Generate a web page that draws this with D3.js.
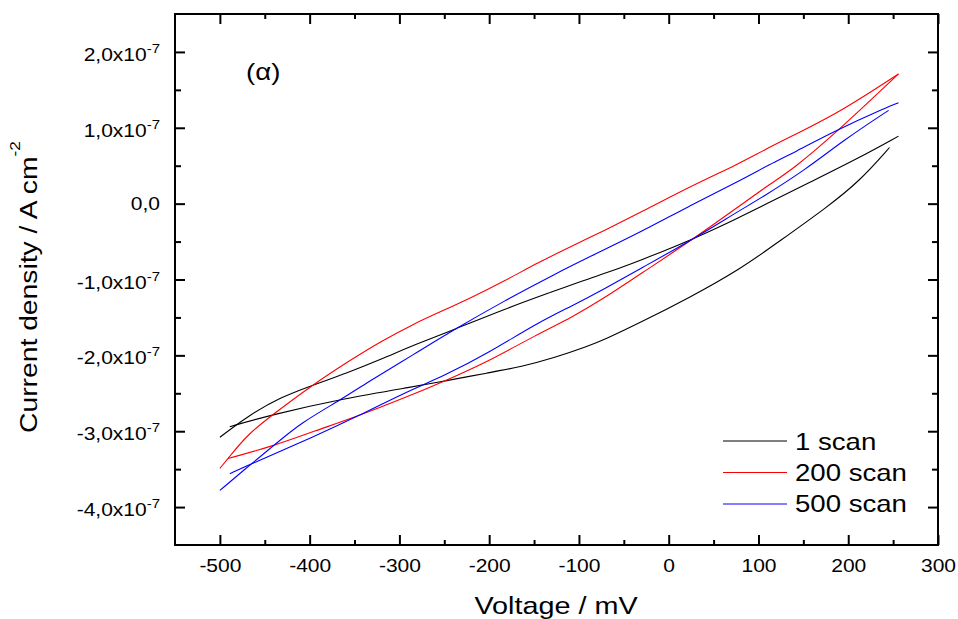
<!DOCTYPE html>
<html>
<head>
<meta charset="utf-8">
<script src="https://cdn.jsdelivr.net/npm/d3@7"></script>
<style>
  body { margin: 0; background: #fff; }
  svg { display: block; }
  text { font-family: "Liberation Sans", Arial, Helvetica, sans-serif; fill: #000; }
</style>
</head>
<body>
<svg id="chart" width="958" height="619"></svg>
<script>
// Cyclic voltammograms: [voltage in mV, current density in units of 1e-7 A cm^-2]
// Each loop is stored as its upper and lower branch.
const scan1Upper = [[-500,-3.08],[-469,-2.80],[-432,-2.55],[-398,-2.40],[-358,-2.23],[-320,-2.05],[-283,-1.86],[-239,-1.66],[-183,-1.39],[-127,-1.15],[-97,-1.02],[-71,-0.92],[-32,-0.75],[27,-0.47],[79,-0.18],[113,0.02],[157,0.28],[213,0.61],[256,0.89]];
const scan1Lower = [[-489,-2.94],[-441,-2.78],[-363,-2.57],[-283,-2.41],[-250,-2.34],[-201,-2.23],[-164,-2.15],[-127,-2.03],[-90,-1.88],[-71,-1.79],[-32,-1.57],[23,-1.24],[79,-0.87],[124,-0.49],[176,-0.05],[213,0.30],[246,0.74]];

const scan200Upper = [[-500,-3.49],[-491,-3.36],[-469,-3.04],[-441,-2.78],[-398,-2.40],[-357,-2.08],[-320,-1.81],[-283,-1.58],[-257,-1.44],[-220,-1.24],[-183,-1.02],[-146,-0.78],[-108,-0.56],[-71,-0.35],[-32,-0.12],[23,0.22],[79,0.53],[105,0.70],[139,0.90],[194,1.23],[256,1.71]];
const scan200Lower = [[-491,-3.36],[-439,-3.19],[-395,-3.00],[-346,-2.80],[-294,-2.56],[-250,-2.34],[-201,-2.08],[-146,-1.72],[-108,-1.50],[-71,-1.24],[-32,-0.93],[27,-0.47],[79,-0.03],[113,0.26],[139,0.46],[187,0.94],[256,1.71]];

const scan500Upper = [[-500,-3.78],[-465,-3.43],[-439,-3.18],[-410,-2.89],[-363,-2.57],[-339,-2.38],[-283,-1.98],[-239,-1.66],[-183,-1.28],[-127,-0.93],[-88,-0.70],[-32,-0.38],[23,-0.03],[79,0.30],[113,0.52],[139,0.67],[187,0.97],[243,1.27],[256,1.33]];
const scan500Lower = [[-489,-3.56],[-465,-3.43],[-395,-3.07],[-346,-2.80],[-294,-2.49],[-250,-2.27],[-201,-1.97],[-146,-1.57],[-108,-1.35],[-71,-1.12],[-32,-0.86],[27,-0.47],[79,-0.09],[101,0.06],[154,0.46],[194,0.83],[245,1.23]];

const seriesNames = ["1 scan", "200 scan", "500 scan"];
const seriesColors = ["#000000", "#ff0000", "#0000ff"];

const xMajorTicks = [-500, -400, -300, -200, -100, 0, 100, 200, 300];
const xMinorTicks = [-450, -350, -250, -150, -50, 50, 150, 250];
const yMajorTicks = [-4, -3, -2, -1, 0, 1, 2];
const yMinorTicks = [-3.5, -2.5, -1.5, -0.5, 0.5, 1.5];
const yExponent = "-7";

const panelLabel = "(\u03b1)";
const xTitle = "Voltage / mV";
const yTitle = "Current density / A cm";
const yTitleSup = "-2";

// ---- layout ----
const plot = { left: 175, right: 938, top: 14, bottom: 545 };
const TXT = 1.2;   // horizontal widening applied to all labels

const svg = d3.select("#chart");

const x = d3.scaleLinear().domain([-550, 300]).range([plot.left, plot.right]);
const y = d3.scaleLinear().domain([-4.5, 2.5]).range([plot.bottom, plot.top]);

// ---- axes (ticks point inward on all four sides) ----
function strip(g) { g.select(".domain").remove(); g.selectAll(".tick line").attr("stroke", "#000").attr("stroke-width", 2); }

svg.append("g").attr("transform", `translate(0,${plot.bottom})`)
  .call(d3.axisBottom(x).tickValues(xMinorTicks).tickSizeInner(-5).tickSizeOuter(0).tickFormat(""))
  .call(strip);
const gBottom = svg.append("g").attr("transform", `translate(0,${plot.bottom})`)
  .call(d3.axisBottom(x).tickValues(xMajorTicks).tickSizeInner(-10).tickSizeOuter(0).tickPadding(15).tickFormat(d3.format("d")))
  .call(strip);
gBottom.selectAll(".tick text")
  .attr("font-size", 17.5).attr("font-family", null)
  .attr("transform", `scale(${TXT},1)`)
  .text(d => String(d));

svg.append("g").attr("transform", `translate(0,${plot.top})`)
  .call(d3.axisTop(x).tickValues(xMinorTicks).tickSizeInner(-5).tickSizeOuter(0).tickFormat(""))
  .call(strip);
svg.append("g").attr("transform", `translate(0,${plot.top})`)
  .call(d3.axisTop(x).tickValues(xMajorTicks).tickSizeInner(-10).tickSizeOuter(0).tickFormat(""))
  .call(strip);

svg.append("g").attr("transform", `translate(${plot.left},0)`)
  .call(d3.axisLeft(y).tickValues(yMinorTicks).tickSizeInner(-6).tickSizeOuter(0).tickFormat(""))
  .call(strip);
const gLeft = svg.append("g").attr("transform", `translate(${plot.left},0)`)
  .call(d3.axisLeft(y).tickValues(yMajorTicks).tickSizeInner(-10).tickSizeOuter(0).tickPadding(15))
  .call(strip);
gLeft.selectAll(".tick text").each(function (d) {
  const t = d3.select(this)
    .attr("font-size", 17.5).attr("font-family", null)
    .attr("x", -15 / TXT)
    .attr("transform", `scale(${TXT},1)`)
    .text("");
  if (d === 0) {
    t.append("tspan").text("0,0");
  } else {
    t.attr("dy", null).attr("y", 8.5);
    t.append("tspan").text(d.toFixed(1).replace(".", ",") + "x10");
    t.append("tspan").attr("font-size", 12.5).attr("dy", -8).text(yExponent);
  }
});

svg.append("g").attr("transform", `translate(${plot.right},0)`)
  .call(d3.axisRight(y).tickValues(yMinorTicks).tickSizeInner(-6).tickSizeOuter(0).tickFormat(""))
  .call(strip);
svg.append("g").attr("transform", `translate(${plot.right},0)`)
  .call(d3.axisRight(y).tickValues(yMajorTicks).tickSizeInner(-10).tickSizeOuter(0).tickFormat(""))
  .call(strip);

// frame
svg.append("rect")
  .attr("x", plot.left).attr("y", plot.top)
  .attr("width", plot.right - plot.left).attr("height", plot.bottom - plot.top)
  .attr("fill", "none").attr("stroke", "#000").attr("stroke-width", 2);

// ---- curves ----
const line = d3.line()
  .x(d => x(d[0]))
  .y(d => y(d[1]))
  .curve(d3.curveBasis);

const branches = [
  { data: scan1Upper, s: 0 }, { data: scan1Lower, s: 0 },
  { data: scan200Upper, s: 1 }, { data: scan200Lower, s: 1 },
  { data: scan500Upper, s: 2 }, { data: scan500Lower, s: 2 }
];
svg.append("g").selectAll("path")
  .data(branches)
  .join("path")
  .attr("d", b => line(b.data))
  .attr("fill", "none")
  .attr("stroke", b => seriesColors[b.s])
  .attr("stroke-width", 1.1);

// ---- legend ----
const legend = svg.append("g").attr("transform", "translate(723,441)");
seriesNames.forEach((name, i) => {
  const gy = i * 31.5;
  legend.append("line")
    .attr("x1", 0).attr("x2", 64).attr("y1", gy).attr("y2", gy)
    .attr("stroke", seriesColors[i]).attr("stroke-width", 1.1);
  legend.append("text")
    .attr("x", 72 / TXT).attr("y", gy + 8.5)
    .attr("transform", `scale(${TXT},1)`)
    .attr("font-size", 23)
    .text(name);
});

// ---- labels ----
svg.append("text")
  .attr("transform", `translate(246,80) scale(1.2,1)`)
  .attr("font-size", 23)
  .text(panelLabel);

svg.append("text")
  .attr("transform", `translate(556,614) scale(${TXT},1)`)
  .attr("text-anchor", "middle")
  .attr("font-size", 24)
  .text(xTitle);

const yt = svg.append("text")
  .attr("transform", `translate(37,433) rotate(-90) scale(1.23,1)`)
  .attr("font-size", 23);
yt.append("tspan").text(yTitle);
yt.append("tspan").attr("font-size", 14).attr("dy", -17).text(yTitleSup);
</script>
</body>
</html>
